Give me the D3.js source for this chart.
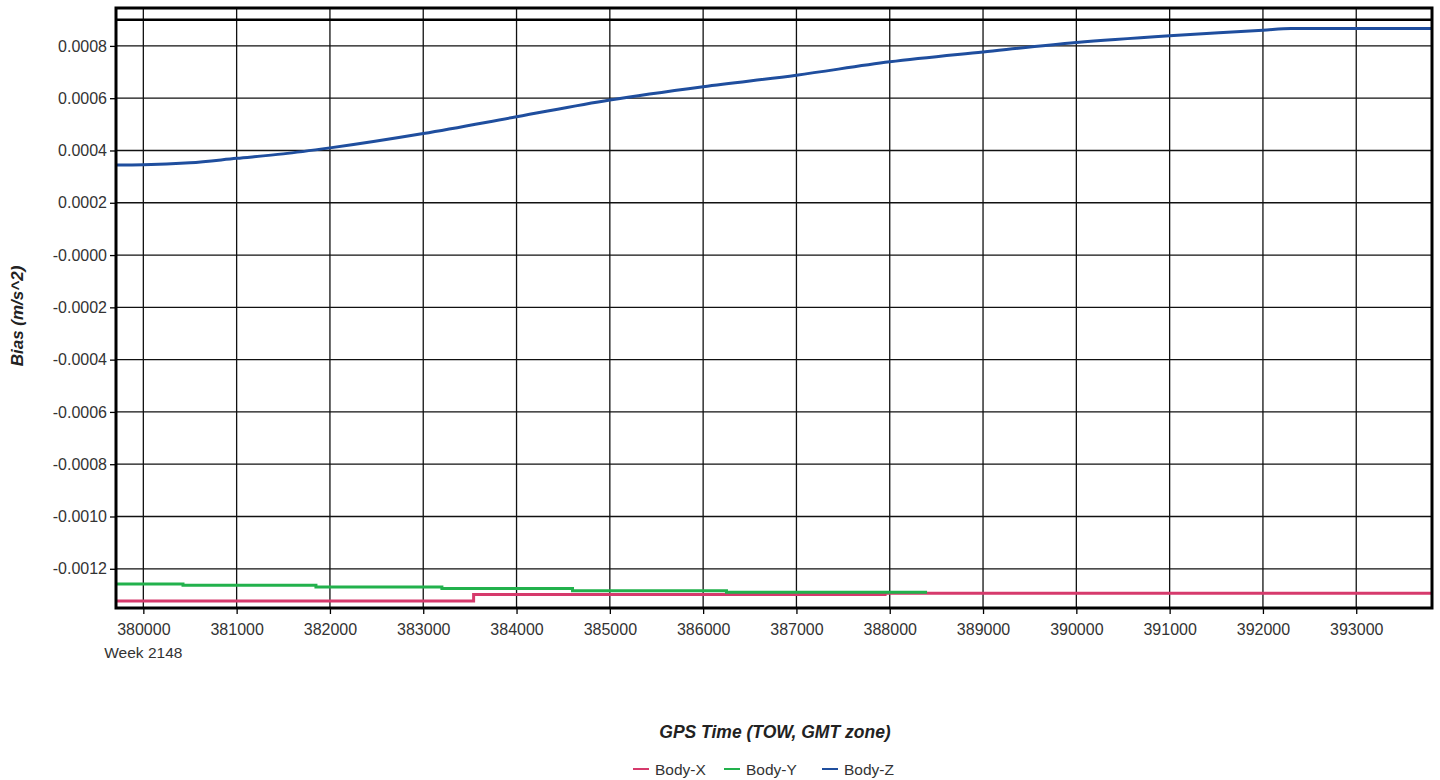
<!DOCTYPE html>
<html>
<head>
<meta charset="utf-8">
<script src="https://cdn.jsdelivr.net/npm/d3@7"></script>
<style>
  html, body { margin: 0; padding: 0; background: #ffffff; }
  svg { display: block; }
  text { font-family: "Liberation Sans", Arial, sans-serif; }
</style>
</head>
<body>
<div id="chart"></div>
<script>
// ---- Data ----
const xTicks = [380000, 381000, 382000, 383000, 384000, 385000, 386000, 387000, 388000, 389000, 390000, 391000, 392000, 393000];
const yTicks = [0.0008, 0.0006, 0.0004, 0.0002, 0, -0.0002, -0.0004, -0.0006, -0.0008, -0.0010, -0.0012];
const yTickLabels = ["0.0008", "0.0006", "0.0004", "0.0002", "-0.0000", "-0.0002", "-0.0004", "-0.0006", "-0.0008", "-0.0010", "-0.0012"];
const weekLabel = "Week 2148";

const seriesNames = ["Body-X", "Body-Y", "Body-Z"];

const timeX = [379707, 383540, 387950, 393812];
const valuesX = [-0.001323, -0.001298, -0.001294, -0.001294];

const timeY = [379707, 380425, 381850, 383200, 384600, 386250, 388400];
const valuesY = [-0.001258, -0.001263, -0.00127, -0.001275, -0.001284, -0.00129, -0.00129];

const timeZ = [379707, 380000, 380500, 381000, 381500, 382000, 383000, 384000, 385000, 386000, 387000, 388000, 389000, 390000, 391000, 392000, 392300, 393812];
const valuesZ = [0.000344, 0.000345, 0.000353, 0.00037, 0.000387, 0.00041, 0.000465, 0.000529, 0.000593, 0.000644, 0.000688, 0.000739, 0.000777, 0.000813, 0.000839, 0.00086, 0.000867, 0.000867];

const xDomain = [379707, 393812];
const yDomain = [-0.00135, 0.000945];
const yTopLine = 0.0009;

// ---- Layout ----
const W = 1440, H = 780;
const plot = { left: 116, top: 8, right: 1432, bottom: 608 };
const colors = { "Body-X": "#d63a6c", "Body-Y": "#22b14c", "Body-Z": "#1f4e9e" };

const svg = d3.select("#chart").append("svg").attr("width", W).attr("height", H);

const x = d3.scaleLinear().domain(xDomain).range([plot.left, plot.right]);
const y = d3.scaleLinear().domain(yDomain).range([plot.bottom, plot.top]);

svg.append("defs").append("clipPath").attr("id", "clip")
  .append("rect").attr("x", plot.left).attr("y", plot.top)
  .attr("width", plot.right - plot.left).attr("height", plot.bottom - plot.top);

// Grid
const grid = svg.append("g");
grid.selectAll("line.v").data(xTicks).join("line")
  .attr("x1", d => x(d)).attr("x2", d => x(d))
  .attr("y1", plot.top).attr("y2", plot.bottom)
  .attr("stroke", "#111").attr("stroke-width", 1.3);
grid.selectAll("line.h").data(yTicks).join("line")
  .attr("x1", plot.left).attr("x2", plot.right)
  .attr("y1", d => y(d)).attr("y2", d => y(d))
  .attr("stroke", "#111").attr("stroke-width", 1.3);
grid.append("line")
  .attr("x1", plot.left).attr("x2", plot.right)
  .attr("y1", y(yTopLine)).attr("y2", y(yTopLine))
  .attr("stroke", "#000").attr("stroke-width", 2.5);

// Axes
const xAxis = d3.axisBottom(x).tickValues(xTicks).tickSize(6).tickPadding(10).tickFormat(d3.format("d"));
const gx = svg.append("g").attr("transform", `translate(0,${plot.bottom})`).call(xAxis);
gx.select(".domain").remove();
gx.selectAll("line").attr("stroke", "#000").attr("stroke-width", 1.3);
gx.selectAll("text").attr("font-size", 16).attr("fill", "#333");

svg.append("text").attr("x", x(xTicks[0])).attr("y", plot.bottom + 50)
  .attr("text-anchor", "middle").attr("font-size", 15.5).attr("fill", "#333").text(weekLabel);

const yAxis = d3.axisLeft(y).tickValues(yTicks).tickSize(6).tickPadding(3)
  .tickFormat((d, i) => yTickLabels[i]);
const gy = svg.append("g").attr("transform", `translate(${plot.left},0)`).call(yAxis);
gy.select(".domain").remove();
gy.selectAll("line").attr("stroke", "#000").attr("stroke-width", 1.3);
gy.selectAll("text").attr("font-size", 16).attr("fill", "#333");

// Lines
const lines = svg.append("g").attr("clip-path", "url(#clip)");
const stepLine = d3.line().x(d => x(d[0])).y(d => y(d[1])).curve(d3.curveStepAfter);
const smoothLine = d3.line().x(d => x(d[0])).y(d => y(d[1])).curve(d3.curveMonotoneX);

lines.append("path").datum(d3.zip(timeX, valuesX))
  .attr("d", stepLine).attr("fill", "none").attr("stroke", colors["Body-X"]).attr("stroke-width", 3);
lines.append("path").datum(d3.zip(timeY, valuesY))
  .attr("d", stepLine).attr("fill", "none").attr("stroke", colors["Body-Y"]).attr("stroke-width", 3);
lines.append("path").datum(d3.zip(timeZ, valuesZ))
  .attr("d", smoothLine).attr("fill", "none").attr("stroke", colors["Body-Z"]).attr("stroke-width", 3);

// Frame
svg.append("rect").attr("x", plot.left).attr("y", plot.top)
  .attr("width", plot.right - plot.left).attr("height", plot.bottom - plot.top)
  .attr("fill", "none").attr("stroke", "#000").attr("stroke-width", 3);

// Axis titles
svg.append("text").attr("transform", `translate(23,${(plot.top + plot.bottom) / 2 + 8}) rotate(-90)`)
  .attr("text-anchor", "middle").attr("font-size", 17).attr("font-weight", "bold")
  .attr("font-style", "italic").attr("fill", "#222").text("Bias (m/s^2)");
svg.append("text").attr("x", 775).attr("y", 738)
  .attr("text-anchor", "middle").attr("font-size", 17.5).attr("font-weight", "bold")
  .attr("font-style", "italic").attr("fill", "#222").text("GPS Time (TOW, GMT zone)");

// Legend
const legendX = [633, 724, 822];
const leg = svg.append("g");
seriesNames.forEach((name, i) => {
  const g = leg.append("g").attr("transform", `translate(${legendX[i]},769)`);
  g.append("line").attr("x1", 0).attr("x2", 16).attr("y1", 0).attr("y2", 0)
    .attr("stroke", colors[name]).attr("stroke-width", 2);
  g.append("text").attr("x", 22).attr("y", 5.5).attr("font-size", 15.5).attr("fill", "#333").text(name);
});
</script>
</body>
</html>
